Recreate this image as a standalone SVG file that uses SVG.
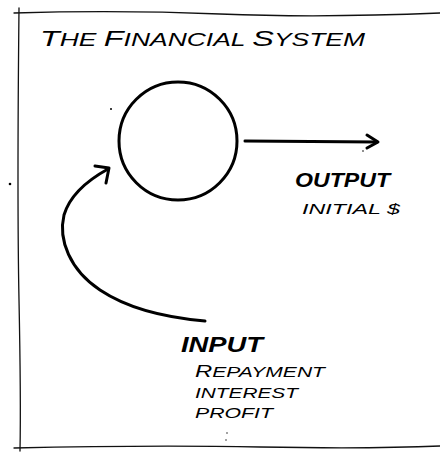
<svg xmlns="http://www.w3.org/2000/svg" width="440" height="454" viewBox="0 0 440 454">
<style>
.frame{fill:none;stroke:#111;stroke-width:1.3;stroke-linecap:round}
.ink{fill:none;stroke:#000;stroke-width:3;stroke-linecap:round;stroke-linejoin:round}
.t{font-family:"Liberation Sans",Arial,sans-serif;font-style:italic;fill:#000}
.head{font-weight:bold}
.cap{font-size:22px}
.dot{fill:#000}
</style>
<rect width="440" height="454" fill="#fff"/>
<g id="frame">
<path class="frame" d="M14 13 Q120 10 220 14 T440 13"/>
<path class="frame" d="M19 8 Q17 200 19 300 T20 451"/>
<path class="frame" d="M14 448 Q150 445 260 447 T440 446"/>
</g>
<g id="title"><text class="t" x="40" y="46" font-size="18" textLength="325" lengthAdjust="spacingAndGlyphs"><tspan class="cap">T</tspan>HE <tspan class="cap">F</tspan>INANCIAL <tspan class="cap">S</tspan>YSTEM</text></g>
<g id="system"><ellipse class="ink" cx="178" cy="141" rx="59" ry="59"/></g>
<g id="output">
<text class="t head" x="295" y="187" font-size="21" textLength="95" lengthAdjust="spacingAndGlyphs">OUTPUT</text>
<text class="t" x="302" y="214" font-size="14" textLength="98" lengthAdjust="spacingAndGlyphs">INITIAL $</text>
</g>
<g id="input">
<text class="t head" x="181" y="352" font-size="22" textLength="82" lengthAdjust="spacingAndGlyphs">INPUT</text>
<text class="t" x="195" y="377" font-size="15" textLength="130" lengthAdjust="spacingAndGlyphs"><tspan font-size="17">R</tspan>EPAYMENT</text>
<text class="t" x="195" y="398" font-size="15" textLength="103" lengthAdjust="spacingAndGlyphs">INTEREST</text>
<text class="t" x="195" y="418" font-size="15" textLength="78" lengthAdjust="spacingAndGlyphs">PROFIT</text>
</g>
<g id="connectors">
<path class="ink" d="M245 141 L377 142"/>
<path class="ink" d="M367 135 L378 142 L367 148"/>
<path class="ink" d="M205 321 C170 318 130 310 100 290 C70 270 58 240 64 215 C70 195 88 180 108 169"/>
<path class="ink" d="M95 166 L109 168 L106 183"/>
</g>
<g id="marks">
<circle class="dot" cx="111" cy="109" r="1"/>
<circle class="dot" cx="10" cy="184" r="1.3"/>
<circle class="dot" cx="363" cy="151" r="0.8"/>
<circle class="dot" cx="227" cy="433" r="0.7"/>
<circle class="dot" cx="226" cy="440" r="0.7"/>
</g>
</svg>
